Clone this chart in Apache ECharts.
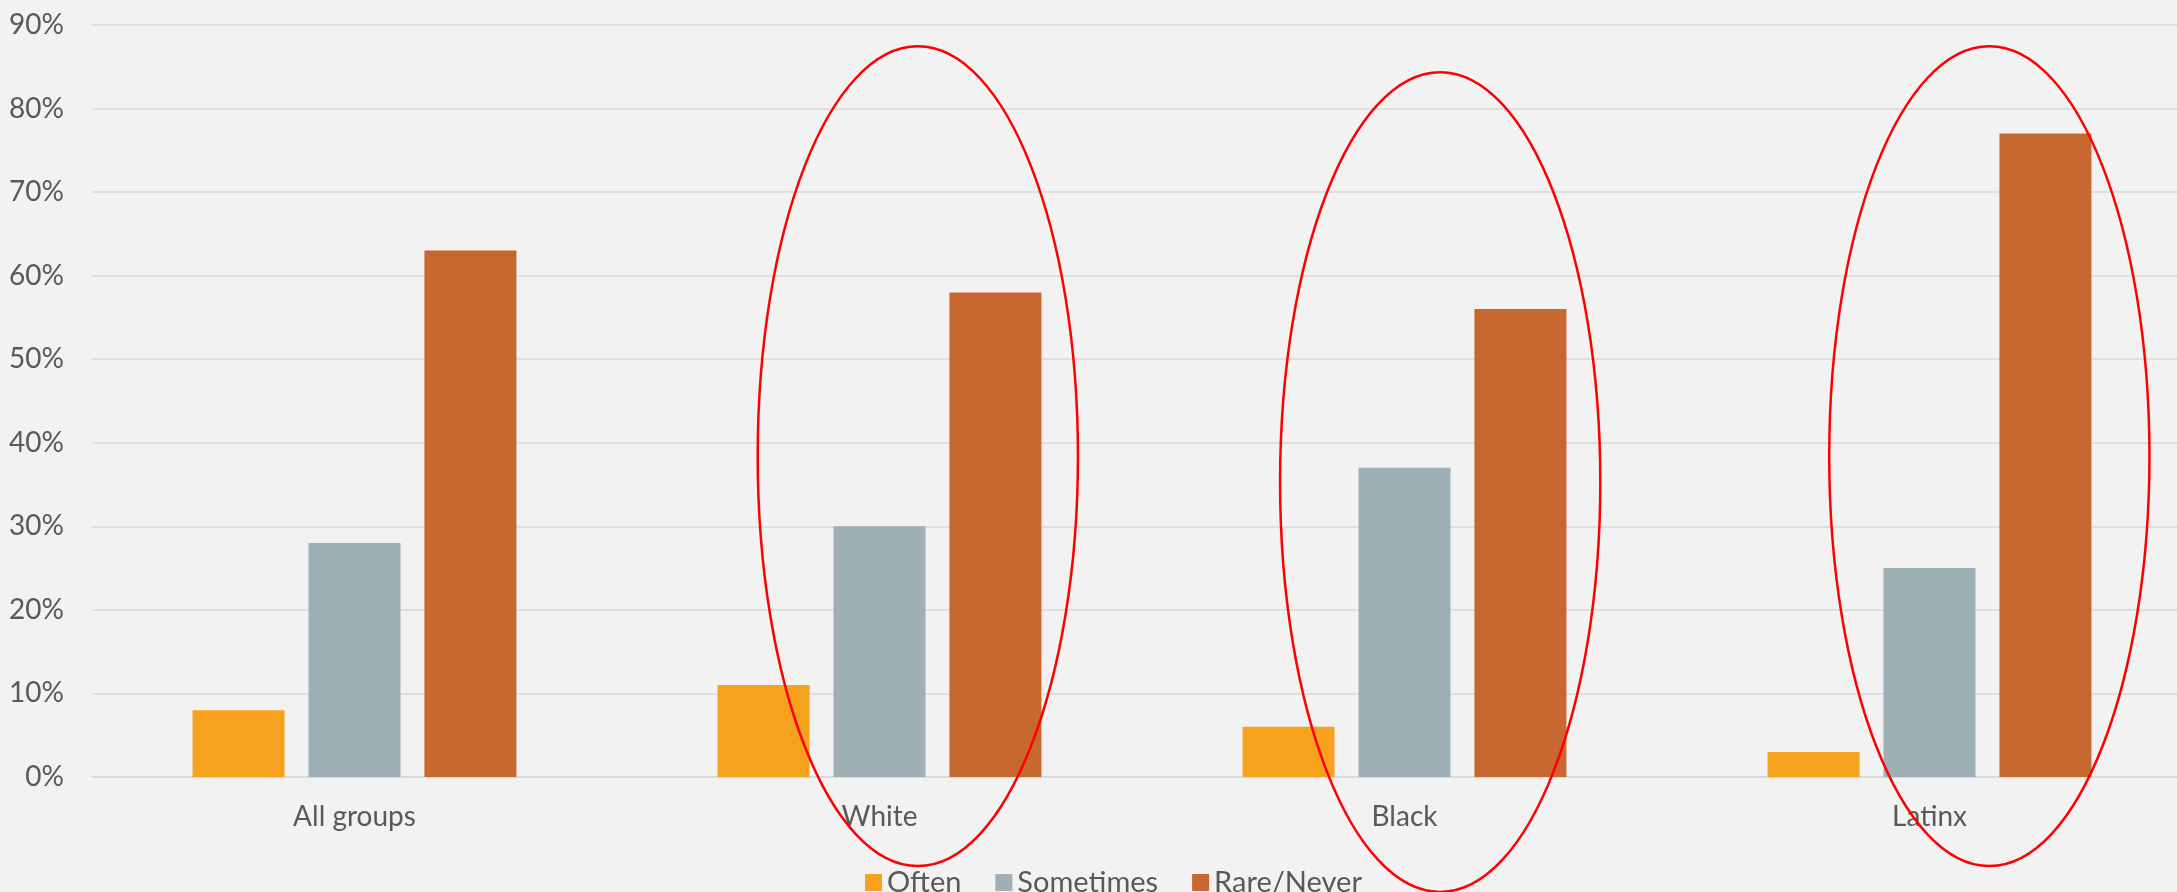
<!DOCTYPE html>
<html>
<head>
<meta charset="utf-8">
<script src="https://cdn.jsdelivr.net/npm/echarts@6/dist/echarts.min.js"></script>
<style>
html,body{margin:0;padding:0;background:#f2f2f2;}
#chart{width:2177px;height:892px;}
</style>
</head>
<body>
<div id="chart"></div>
<script>
var categories = ['All groups', 'White', 'Black', 'Latinx'];
var seriesNames = ['Often', 'Sometimes', 'Rare/Never'];
var often = [8, 11, 6, 3];
var sometimes = [28, 30, 37, 25];
var rareNever = [63, 58, 56, 77];
var yTicks = [0, 10, 20, 30, 40, 50, 60, 70, 80, 90];
// annotation ellipses: center (category index units, value units), half-extent
var ellipseCenterIdx = [1.073, 2.068, 3.114];
var ellipseCenterVal = [38.4, 35.3, 38.4];
var ellipseHalfIdx = [0.305, 0.305, 0.305];
var ellipseHalfVal = [49.05, 49.05, 49.05];

var colors = ['#F7A21F', '#9EB0B6', '#C86830'];
var font = 'Lato, "Open Sans", sans-serif';
var chart = echarts.init(document.getElementById('chart'));
var option = {
  backgroundColor: '#f2f2f2',
  animation: false,
  grid: {left: 92, width: 2100, top: 25, height: 752, containLabel: false, outerBoundsMode: 'none'},
  legend: {
    data: seriesNames,
    left: 860, top: 863,
    itemWidth: 17, itemHeight: 17, itemGap: 34,
    icon: 'rect',
    textStyle: {color: '#595959', fontSize: 29, fontFamily: font}
  },
  xAxis: {
    type: 'category',
    data: categories,
    axisTick: {show: false},
    axisLine: {show: true, lineStyle: {color: '#d9d9d9', width: 1.5}},
    axisLabel: {color: '#595959', fontSize: 28, fontFamily: font, margin: 26}
  },
  yAxis: {
    type: 'value',
    min: yTicks[0], max: yTicks[yTicks.length - 1], interval: 10,
    axisLine: {show: false},
    axisTick: {show: false},
    axisLabel: {color: '#595959', fontSize: 28, fontFamily: font, margin: 28, formatter: '{value}%'},
    splitLine: {lineStyle: {color: '#d9d9d9', width: 1.5}}
  },
  series: [
    {name: seriesNames[0], type: 'bar', data: often, barWidth: 92, barGap: '26%', itemStyle: {color: colors[0]}},
    {name: seriesNames[1], type: 'bar', data: sometimes, barWidth: 92, barGap: '26%', itemStyle: {color: colors[1]}},
    {name: seriesNames[2], type: 'bar', data: rareNever, barWidth: 92, barGap: '26%', itemStyle: {color: colors[2]}}
  ]
};
chart.setOption(option);

var p0 = chart.convertToPixel({xAxisIndex: 0}, categories[0]);
var p1 = chart.convertToPixel({xAxisIndex: 0}, categories[1]);
var step = p1 - p0;
var graphics = [];
for (var i = 0; i < ellipseCenterIdx.length; i++) {
  var cx = p0 + ellipseCenterIdx[i] * step;
  var cy = chart.convertToPixel({yAxisIndex: 0}, ellipseCenterVal[i]);
  var rx = ellipseHalfIdx[i] * step;
  var ry = chart.convertToPixel({yAxisIndex: 0}, 0) - chart.convertToPixel({yAxisIndex: 0}, ellipseHalfVal[i]);
  graphics.push({
    type: 'ellipse',
    shape: {cx: cx, cy: cy, rx: rx, ry: ry},
    style: {fill: null, stroke: '#ff0000', lineWidth: 2.5},
    z: 100
  });
}
chart.setOption({graphic: graphics});
</script>
</body>
</html>
